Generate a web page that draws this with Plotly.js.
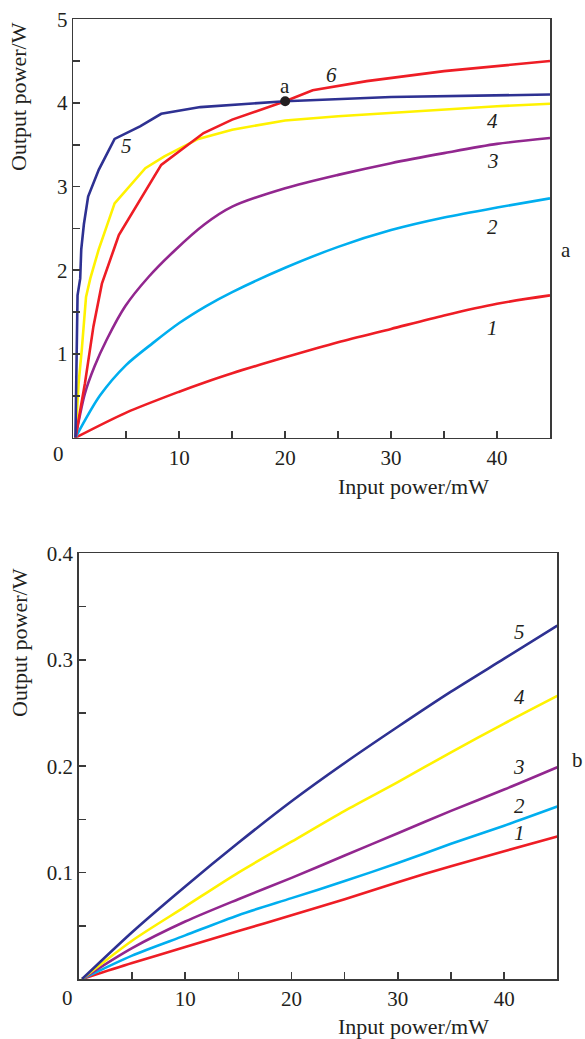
<!DOCTYPE html>
<html>
<head>
<meta charset="utf-8">
<script src="https://cdn.plot.ly/plotly-3.0.1.min.js"></script>
<style>html,body{margin:0;padding:0;background:#fff;}#chart{width:585px;height:1039px;}</style>
</head>
<body>
<div id="chart"></div>
<script>
// ---- Panel a (top): output power (W) vs input power (mW) ----
const a1_x = [0.2, 5, 10, 12.4, 15, 20, 25, 30, 35, 40, 45];
const a1_y = [0, 0.30, 0.55, 0.66, 0.77, 0.96, 1.14, 1.30, 1.46, 1.60, 1.70];
const a2_x = [0.2, 2.5, 5, 7.5, 10, 12.5, 15, 20, 25, 30, 35, 40, 45];
const a2_y = [0, 0.50, 0.87, 1.13, 1.37, 1.57, 1.74, 2.03, 2.28, 2.48, 2.63, 2.75, 2.86];
const a3_x = [0.2, 1.1, 2.0, 3.15, 4.9, 7.1, 9.6, 12.4, 15, 20, 25, 30, 35, 40, 45];
const a3_y = [0, 0.53, 0.85, 1.17, 1.57, 1.92, 2.24, 2.55, 2.76, 2.98, 3.14, 3.28, 3.40, 3.51, 3.58];
const a4_x = [0.2, 0.5, 0.8, 1.2, 1.6, 2.4, 3.9, 6.8, 8.6, 11.8, 15, 20, 25, 30, 35, 40, 45];
const a4_y = [0, 0.65, 1.05, 1.68, 1.90, 2.25, 2.80, 3.22, 3.36, 3.57, 3.68, 3.79, 3.84, 3.88, 3.92, 3.96, 3.99];
const a5_x = [0.2, 0.3, 0.4, 0.65, 0.75, 1.0, 1.4, 2.4, 3.9, 6.3, 8.3, 12, 20, 30, 45];
const a5_y = [0, 1.0, 1.7, 1.9, 2.25, 2.55, 2.88, 3.20, 3.57, 3.72, 3.87, 3.95, 4.02, 4.07, 4.10];
const a6_x = [0.2, 1.1, 1.9, 2.7, 3.8, 4.3, 8.3, 10.2, 12.3, 15, 20, 22.6, 27.7, 35, 45];
const a6_y = [0, 0.65, 1.33, 1.84, 2.24, 2.42, 3.26, 3.44, 3.64, 3.80, 4.02, 4.15, 4.26, 4.38, 4.50];
const pointA = {x: 20, y: 4.02, label: "a"};

// ---- Panel b (bottom) ----
const b_x = [0.3, 5, 10, 15, 20, 25, 30, 35, 40, 45];
const b1_y = [0, 0.015, 0.030, 0.045, 0.060, 0.075, 0.091, 0.106, 0.120, 0.134];
const b2_y = [0, 0.022, 0.041, 0.060, 0.076, 0.092, 0.109, 0.127, 0.144, 0.162];
const b3_y = [0, 0.029, 0.054, 0.075, 0.095, 0.116, 0.137, 0.158, 0.178, 0.199];
const b4_y = [0, 0.036, 0.068, 0.100, 0.129, 0.158, 0.185, 0.213, 0.240, 0.266];
const b5_y = [0, 0.044, 0.087, 0.128, 0.167, 0.203, 0.237, 0.270, 0.301, 0.332];

// tick labels
const xTickVals = [0, 5, 10, 15, 20, 25, 30, 35, 40, 45];
const xTickText = ["", "", "10", "", "20", "", "30", "", "40", ""];
const yaTickVals = [0, 0.5, 1, 1.5, 2, 2.5, 3, 3.5, 4, 4.5, 5];
const yaTickText = ["", "", "1", "", "2", "", "3", "", "4", "", "5"];
const ybTickVals = [0, 0.05, 0.1, 0.15, 0.2, 0.25, 0.3, 0.35, 0.4];
const ybTickText = ["", "", "0.1", "", "0.2", "", "0.3", "", "0.4"];

const curveLabelsA = [
  {t: "5", x: 5.04, y: 3.48}, {t: "6", x: 24.4, y: 4.33}, {t: "4", x: 39.6, y: 3.78},
  {t: "3", x: 39.6, y: 3.30}, {t: "2", x: 39.6, y: 2.52}, {t: "1", x: 39.6, y: 1.31}
];
const curveLabelsB = [
  {t: "5", x: 41.4, y: 0.326}, {t: "4", x: 41.4, y: 0.265}, {t: "3", x: 41.4, y: 0.199},
  {t: "2", x: 41.4, y: 0.163}, {t: "1", x: 41.4, y: 0.137}
];

const RED = "#ee1d25", CYAN = "#00aeef", PURPLE = "#92278f", YELLOW = "#fff200", NAVY = "#2e3192";
const W = 585, H = 1039;
const px = v => v / W, py = v => 1 - v / H;
const SERIF = "Liberation Serif, Times New Roman, serif";
const TXT = "#231f20";

function ln(x, y, c, xa, ya, shape) {
  return {x: x, y: y, type: "scatter", mode: "lines", xaxis: xa, yaxis: ya,
    line: {color: c, width: 2.6, shape: shape || "linear", smoothing: 0.8},
    hoverinfo: "skip", showlegend: false};
}

const traces = [
  ln(a1_x, a1_y, RED, "x", "y", "spline"),
  ln(a2_x, a2_y, CYAN, "x", "y", "spline"),
  ln(a3_x, a3_y, PURPLE, "x", "y", "spline"),
  ln(a4_x, a4_y, YELLOW, "x", "y"),
  ln(a6_x, a6_y, RED, "x", "y"),
  ln(a5_x, a5_y, NAVY, "x", "y"),
  {x: [pointA.x], y: [pointA.y], type: "scatter", mode: "markers", xaxis: "x", yaxis: "y",
   marker: {color: "#231f20", size: 10}, showlegend: false, hoverinfo: "skip"},
  ln(b_x, b1_y, RED, "x2", "y2", "spline"),
  ln(b_x, b2_y, CYAN, "x2", "y2", "spline"),
  ln(b_x, b3_y, PURPLE, "x2", "y2", "spline"),
  ln(b_x, b4_y, YELLOW, "x2", "y2", "spline"),
  ln(b_x, b5_y, NAVY, "x2", "y2", "spline")
];

const axCommon = {
  showline: true, mirror: true, linecolor: "#3a3a3a", linewidth: 1.6,
  ticks: "inside", ticklen: 7, tickwidth: 1.6, tickcolor: "#3a3a3a",
  showgrid: false, zeroline: false, fixedrange: true,
  tickfont: {family: SERIF, size: 21, color: TXT}
};

const annotations = [];
function ann(o) {
  annotations.push(Object.assign({showarrow: false, xanchor: "center", yanchor: "middle",
    font: {family: SERIF, size: 21, color: TXT}}, o));
}
curveLabelsA.forEach(l => ann({xref: "x", yref: "y", x: l.x, y: l.y, text: "<i>" + l.t + "</i>"}));
curveLabelsB.forEach(l => ann({xref: "x2", yref: "y2", x: l.x, y: l.y, text: "<i>" + l.t + "</i>"}));
ann({xref: "x", yref: "y", x: pointA.x, y: pointA.y, yshift: 15, text: pointA.label});
// panel letters
ann({xref: "paper", yref: "paper", x: px(566), y: py(250), text: "a"});
ann({xref: "paper", yref: "paper", x: px(585), y: py(760), text: "b", xanchor: "right"});
// origin zero labels
ann({xref: "paper", yref: "paper", x: px(58), y: py(454), text: "0"});
ann({xref: "paper", yref: "paper", x: px(67), y: py(998), text: "0"});
// axis titles
const titleFont = {family: SERIF, size: 22, color: TXT};
ann({xref: "paper", yref: "paper", x: px(19), y: py(97), text: "Output power/W", textangle: -90, font: titleFont});
ann({xref: "paper", yref: "paper", x: px(19), y: py(643), text: "Output power/W", textangle: -90, font: titleFont});
ann({xref: "paper", yref: "paper", x: px(413), y: py(487), text: "Input power/mW", font: titleFont});
ann({xref: "paper", yref: "paper", x: px(413), y: py(1026), text: "Input power/mW", font: titleFont});

const layout = {
  width: W, height: H,
  margin: {l: 0, r: 0, t: 0, b: 0},
  paper_bgcolor: "#fff", plot_bgcolor: "#fff",
  showlegend: false,
  xaxis: Object.assign({}, axCommon, {domain: [px(73.3), px(550)], range: [0, 45], anchor: "y",
    tickmode: "array", tickvals: xTickVals, ticktext: xTickText}),
  yaxis: Object.assign({}, axCommon, {domain: [py(437.7), py(19.2)], range: [0, 5], anchor: "x",
    tickmode: "array", tickvals: yaTickVals, ticktext: yaTickText}),
  xaxis2: Object.assign({}, axCommon, {domain: [px(78.9), px(557.3)], range: [0, 45], anchor: "y2",
    tickmode: "array", tickvals: xTickVals, ticktext: xTickText}),
  yaxis2: Object.assign({}, axCommon, {domain: [py(979), py(553.3)], range: [0, 0.4], anchor: "x2",
    tickmode: "array", tickvals: ybTickVals, ticktext: ybTickText}),
  annotations: annotations
};

Plotly.newPlot("chart", traces, layout, {staticPlot: true, displayModeBar: false});
</script>
</body>
</html>
